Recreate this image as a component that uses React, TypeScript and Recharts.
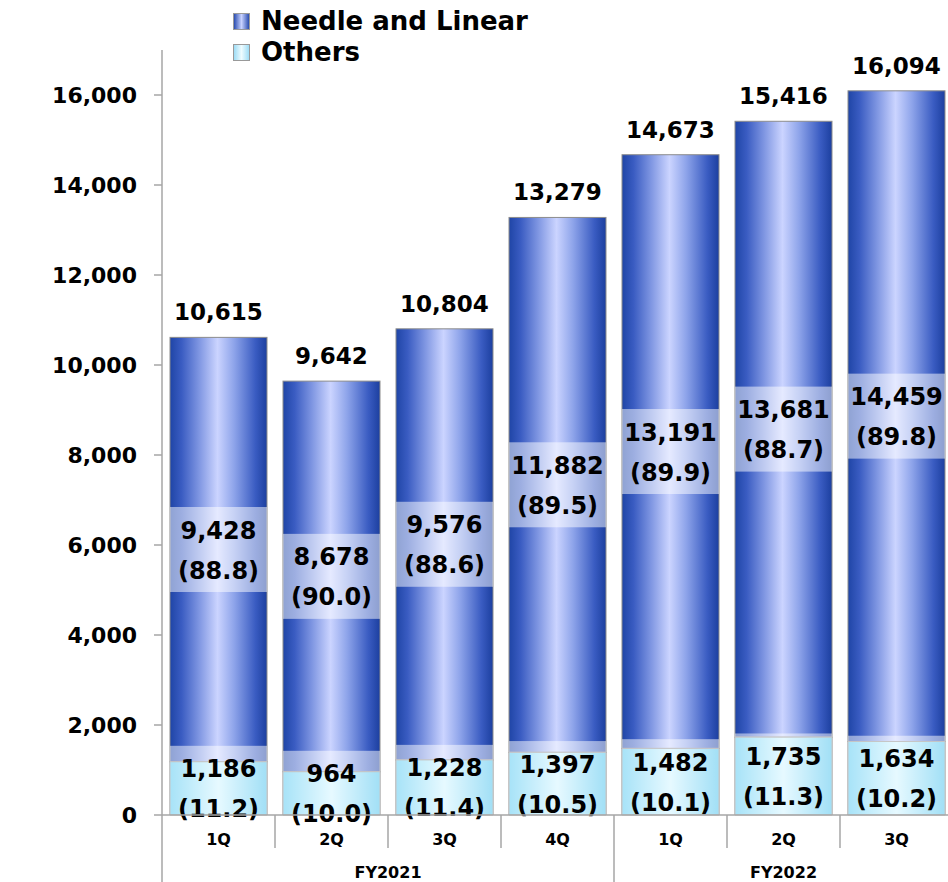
import React from "react";
import { Bar, BarChart, XAxis, YAxis } from "recharts";

const categories = ["1Q", "2Q", "3Q", "4Q", "1Q", "2Q", "3Q"];
const fiscalYears = ["FY2021", "FY2021", "FY2021", "FY2021", "FY2022", "FY2022", "FY2022"];
const needleValues = [9428, 8678, 9576, 11882, 13191, 13681, 14459];
const othersValues = [1186, 964, 1228, 1397, 1482, 1735, 1634];
const needleShares = [88.8, 90.0, 88.6, 89.5, 89.9, 88.7, 89.8];
const othersShares = [11.2, 10.0, 11.4, 10.5, 10.1, 11.3, 10.2];
const totals = [10615, 9642, 10804, 13279, 14673, 15416, 16094];
const yTicks = [0, 2000, 4000, 6000, 8000, 10000, 12000, 14000, 16000];

const data = categories.map((q, i) => ({
  key: `${fiscalYears[i]}-${q}`,
  q,
  needle: needleValues[i],
  others: othersValues[i],
  needlePct: needleShares[i],
  othersPct: othersShares[i],
  total: totals[i],
}));

const CHART_W = 960;
const CHART_H = 882;
const MARGIN = { top: 50, right: 7, bottom: 0, left: 0 };
const Y_AXIS_W = 162;
const X_AXIS_H = 67;
const PLOT_BOTTOM = CHART_H - X_AXIS_H;
const BAND = (CHART_W - MARGIN.left - MARGIN.right - Y_AXIS_W) / categories.length;
const FONT = "'DejaVu Sans', Verdana, sans-serif";
const GRID = "#a6a6a6";
const LABEL_BOX_H = 85;

const fmt = (v: number) => v.toLocaleString("en-US");

const LabelBox = ({ x, width, cy, value, pct }: any) => (
  <g>
    <rect x={x} y={cy - LABEL_BOX_H / 2} width={width} height={LABEL_BOX_H} fill="#ffffff" fillOpacity={0.5} />
    <text x={x + width / 2} y={cy - 19} textAnchor="middle" dominantBaseline="central" fontFamily={FONT} fontWeight="bold" fontSize={24} fill="#000">
      {fmt(value)}
    </text>
    <text x={x + width / 2} y={cy + 21} textAnchor="middle" dominantBaseline="central" fontFamily={FONT} fontWeight="bold" fontSize={24} fill="#000">
      ({pct.toFixed(1)})
    </text>
  </g>
);

// needle segment draws its own rect plus all labels so they sit above both segments
const NeedleShape = (props: any) => {
  const { x, y, width, height, payload } = props;
  const othersH = (height * payload.others) / payload.needle;
  return (
    <g>
      <rect x={x} y={y} width={width} height={height} fill="url(#needleGrad)" stroke="#8c8c8c" strokeWidth={1} />
      <LabelBox x={x} width={width} cy={y + height + othersH / 2} value={payload.others} pct={payload.othersPct} />
      <LabelBox x={x} width={width} cy={y + height / 2} value={payload.needle} pct={payload.needlePct} />
      <text x={x + width / 2} y={y - 25} textAnchor="middle" dominantBaseline="central" fontFamily={FONT} fontWeight="bold" fontSize={23} fill="#000">
        {fmt(payload.total)}
      </text>
    </g>
  );
};

const CategoryTick = (props: any) => {
  const { x, payload, index } = props;
  const i = payload?.index ?? index;
  const left = x - BAND / 2;
  const fy = fiscalYears[i];
  const groupStart = i === 0 || fiscalYears[i - 1] !== fy;
  const last = i === categories.length - 1;
  const count = fiscalYears.filter((f) => f === fy).length;
  return (
    <g>
      <line x1={left} y1={PLOT_BOTTOM} x2={left} y2={groupStart ? CHART_H : PLOT_BOTTOM + 33} stroke={GRID} strokeWidth={1.5} />
      {last && <line x1={x + BAND / 2} y1={PLOT_BOTTOM} x2={x + BAND / 2} y2={CHART_H} stroke={GRID} strokeWidth={1.5} />}
      <text x={x} y={PLOT_BOTTOM + 24} textAnchor="middle" dominantBaseline="central" fontFamily={FONT} fontWeight="bold" fontSize={16} fill="#000">
        {payload.value}
      </text>
      {groupStart && (
        <text x={left + (count * BAND) / 2} y={PLOT_BOTTOM + 57} textAnchor="middle" dominantBaseline="central" fontFamily={FONT} fontWeight="bold" fontSize={16} fill="#000">
          {fy}
        </text>
      )}
    </g>
  );
};

const legendItems = [
  { name: "Needle and Linear", grad: "linear-gradient(to right, #2a4db0, #c8d2ff 50%, #2a4db0)" },
  { name: "Others", grad: "linear-gradient(to right, #9edcf5, #eefcff 50%, #9edcf5)" },
];

export default function App() {
  return (
    <div style={{ position: "absolute", left: 0, top: 0, width: 948, height: 882, overflow: "hidden", background: "#fff" }}>
      <div style={{ position: "absolute", left: 233, top: 6, zIndex: 2 }}>
        {legendItems.map((it) => (
          <div key={it.name} style={{ display: "flex", alignItems: "center", height: 31 }}>
            <span style={{ width: 15, height: 15, border: "1px solid #999", background: it.grad, marginRight: 11 }} />
            <span style={{ fontFamily: FONT, fontWeight: "bold", fontSize: 26, color: "#000", lineHeight: "31px" }}>{it.name}</span>
          </div>
        ))}
      </div>
      <BarChart width={CHART_W} height={CHART_H} data={data} margin={MARGIN} barSize={97}>
        <defs>
          <linearGradient id="needleGrad" x1="0" y1="0" x2="1" y2="0">
            <stop offset="0%" stopColor="#1f45a6" />
            <stop offset="12%" stopColor="#3a5cc2" />
            <stop offset="30%" stopColor="#7f96e2" />
            <stop offset="49%" stopColor="#cbd4ff" />
            <stop offset="66%" stopColor="#8ea4ea" />
            <stop offset="88%" stopColor="#3a5cc2" />
            <stop offset="100%" stopColor="#1c3f9f" />
          </linearGradient>
          <linearGradient id="othersGrad" x1="0" y1="0" x2="1" y2="0">
            <stop offset="0%" stopColor="#4fc6f0" />
            <stop offset="50%" stopColor="#cdf3ff" />
            <stop offset="100%" stopColor="#43bfec" />
          </linearGradient>
        </defs>
        <XAxis
          dataKey="q"
          height={X_AXIS_H}
          axisLine={{ stroke: GRID, strokeWidth: 1.5 }}
          tickLine={false}
          tick={<CategoryTick />}
          interval={0}
        />
        <YAxis
          width={Y_AXIS_W}
          domain={[0, 17000]}
          ticks={yTicks}
          tickFormatter={fmt}
          axisLine={{ stroke: GRID, strokeWidth: 1.5 }}
          tickLine={{ stroke: GRID, strokeWidth: 1.5 }}
          tickSize={8}
          tickMargin={17}
          tick={{ fontFamily: FONT, fontWeight: "bold", fontSize: 22, fill: "#000" }}
        />
        <Bar dataKey="others" stackId="a" fill="url(#othersGrad)" stroke="#8c8c8c" strokeWidth={1} isAnimationActive={false} />
        <Bar dataKey="needle" stackId="a" fill="url(#needleGrad)" shape={<NeedleShape />} isAnimationActive={false} />
      </BarChart>
    </div>
  );
}
